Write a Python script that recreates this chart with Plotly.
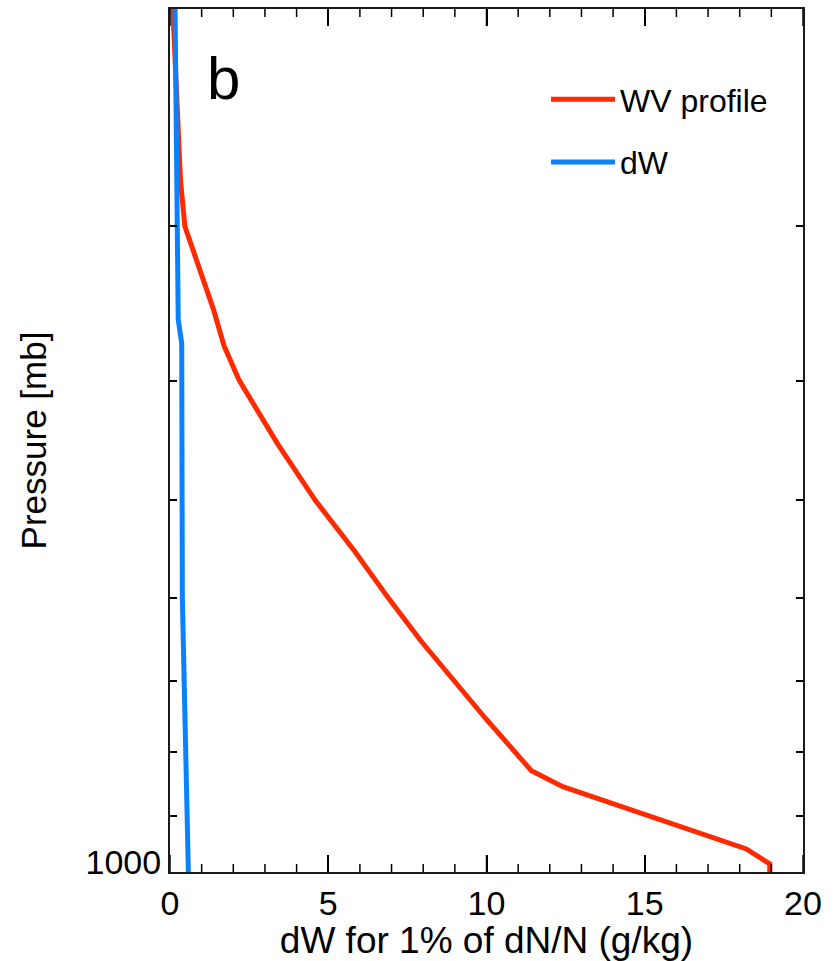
import numpy as np
import plotly.graph_objects as go

# Water-vapour mixing-ratio profile (g/kg) on pressure levels (mb)
wv_pressure = [200, 250, 275, 300, 325, 350, 375, 400, 450, 500, 550, 600,
               650, 700, 750, 800, 828, 853, 958, 985, 1000]
wv_profile = [0.09, 0.26, 0.33, 0.47, 0.93, 1.37, 1.71, 2.19, 3.40, 4.59, 5.84, 6.90,
              7.93, 8.96, 9.95, 10.91, 11.42, 12.41, 18.21, 18.95, 18.95]

# Change in water vapour needed for a 1% change in refractivity
dw_pressure = [200, 357, 373, 600, 1000]
dw_values = [0.16, 0.26, 0.37, 0.39, 0.58]

x_range = [0, 20]
x_major_step = 5
x_minor_step = 1
p_ticks = [300, 400, 500, 600, 700, 800, 900, 1000]
p_ticktext = ["", "", "", "", "", "", "", "1000"]

RED = "#ff2a00"
BLUE = "#0a82ff"
AXIS = "#1a1a1a"
FONT = "Liberation Sans, Arial, Helvetica, sans-serif"

fig = go.Figure()
fig.add_trace(go.Scatter(
    x=wv_profile, y=wv_pressure, mode="lines", name="WV profile",
    legendgroup="wv", line=dict(color=RED, width=5),
))
fig.add_trace(go.Scatter(
    x=dw_values, y=dw_pressure, mode="lines", name="dW",
    legendgroup="dw", line=dict(color=BLUE, width=5),
))

# Inward tick marks on the bottom and top frame edges, placed on the x scale
# and sized in pixels (long every 5 units, short every unit).
major_vals = list(np.arange(x_range[0], x_range[1] + 1e-9, x_major_step))
minor_vals = [v for v in np.arange(x_range[0], x_range[1] + 1e-9, x_minor_step)
              if v % x_major_step != 0]
tick_shapes = []
for vals, length in ((major_vals, 17), (minor_vals, 8)):
    for v in vals:
        for edge, sign in ((0, 1), (1, -1)):
            tick_shapes.append(dict(
                type="line", xref="x", yref="paper",
                ysizemode="pixel", yanchor=edge,
                x0=float(v), x1=float(v), y0=0, y1=sign * length,
                line=dict(color="black", width=1.5), layer="above",
            ))

fig.update_layout(
    template="none",
    width=834, height=961, autosize=False,
    margin=dict(l=170, r=31, t=9, b=89),
    paper_bgcolor="white", plot_bgcolor="white",
    font=dict(family=FONT, color="black"),
    showlegend=True,
    legend=dict(
        x=(546 - 170) / 633, xanchor="left",
        y=1 - (72 - 9) / 863, yanchor="top",
        font=dict(size=32, family=FONT, color="black"),
        bgcolor="rgba(0,0,0,0)", borderwidth=0,
        itemwidth=64, tracegroupgap=18,
    ),
    annotations=[dict(
        text="b", xref="paper", yref="paper",
        x=(205 - 170) / 633, y=1 - (79 - 9) / 863,
        xanchor="left", yanchor="middle", showarrow=False,
        font=dict(size=60, family=FONT, color="black"),
    )],
    shapes=tick_shapes,
    xaxis=dict(
        range=x_range, tickmode="linear", tick0=0, dtick=x_major_step,
        ticks="inside", ticklen=17, tickwidth=1.5, tickcolor="black",
        showline=True, linewidth=2, linecolor=AXIS, mirror="allticks",
        showgrid=False, zeroline=False, automargin=False,
        tickfont=dict(size=34, family=FONT, color="black"),
        title=dict(text="dW for 1% of dN/N (g/kg)", standoff=4,
                   font=dict(size=37, family=FONT, color="black")),
    ),
    yaxis=dict(
        type="log", range=[3, np.log10(200)],
        tickmode="array", tickvals=p_ticks, ticktext=p_ticktext,
        ticks="inside", ticklen=7, tickwidth=2, tickcolor="black",
        showline=True, linewidth=2, linecolor=AXIS, mirror="allticks",
        showgrid=False, zeroline=False, automargin=False,
        tickfont=dict(size=34, family=FONT, color="black"),
        ticklabelshift=10,
        title=dict(text="Pressure [mb]", standoff=28,
                   font=dict(size=35, family=FONT, color="black")),
    ),
)

fig.write_html("out.html")
